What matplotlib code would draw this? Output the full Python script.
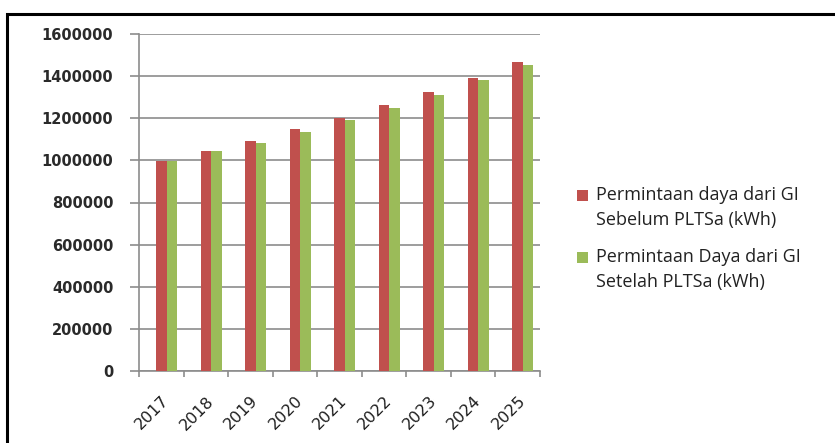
import numpy as np
import matplotlib.pyplot as plt
from matplotlib.patches import Rectangle
from matplotlib.container import BarContainer
from matplotlib.legend_handler import HandlerPatch

years = ["2017", "2018", "2019", "2020", "2021", "2022", "2023", "2024", "2025"]
sebelum = [997000, 1043000, 1093000, 1147000, 1200000, 1262000, 1326000, 1390000, 1466000]
setelah = [997000, 1043000, 1081000, 1133000, 1190000, 1247000, 1312000, 1382000, 1453000]
label_sebelum = "Permintaan daya dari GI\nSebelum PLTSa (kWh)"
label_setelah = "Permintaan Daya dari GI\nSetelah PLTSa (kWh)"

plt.rcParams["font.family"] = ["Open Sans", "DejaVu Sans"]

fig = plt.figure(figsize=(8.35, 4.43), dpi=100)
# outer chart frame
fig.patches.append(Rectangle((7 / 835, -0.2), 1.0, 1.2 - 14 / 443, transform=fig.transFigure,
                             fill=False, edgecolor="black", linewidth=2.2))

ax = fig.add_axes([139 / 835, 1 - 371 / 443, 401 / 835, 337 / 443])
x = np.arange(len(years))
w = 0.235
ax.bar(x, sebelum, w, color="#C0504D", label=label_sebelum, zorder=3)
ax.bar(x + w, setelah, w, color="#9BBB59", label=label_setelah, zorder=3)

ax.set_xlim(-0.5, len(years) - 0.5)
ax.set_ylim(0, 1600000)
ax.set_yticks(np.arange(0, 1600001, 200000))
ax.set_yticklabels([str(v) for v in range(0, 1600001, 200000)], fontsize=10.5,
                   fontweight="bold", color="#2a2a2a", family="DejaVu Sans")
ax.yaxis.grid(True, color="#8c8c8c", linewidth=1.2, zorder=0)
ax.tick_params(axis="y", length=6.5, color="#8c8c8c", width=1.2, pad=12)

ax.set_xticks(x)
ax.set_xticklabels(years, rotation=45, ha="right", rotation_mode="anchor",
                   fontsize=11.5, color="#1e1e1e", family="DejaVu Sans")
ax.tick_params(axis="x", which="major", length=0, pad=16)
ax.set_xticks(np.arange(-0.5, len(years), 1), minor=True)
ax.tick_params(axis="x", which="minor", length=4, color="#8c8c8c", width=1.2)

for s in ["top", "right"]:
    ax.spines[s].set_visible(False)
for s in ["left", "bottom"]:
    ax.spines[s].set_color("#8c8c8c")
    ax.spines[s].set_linewidth(1.2)


# legend marker sits next to the first line of each label, as in Excel
def top_square(legend, orig_handle, xdescent, ydescent, width, height, fontsize):
    return Rectangle((-xdescent, -ydescent + 9), width, height)


def from_bars(handle, orig):
    handle.update_from(orig.patches[0])


leg = fig.legend(loc="upper left", bbox_to_anchor=(561 / 835, 1 - 170 / 443), frameon=False,
                 fontsize=13, handlelength=0.6, handleheight=0.6, handletextpad=0.45,
                 labelspacing=1.1, labelcolor="#222222",
                 handler_map={BarContainer: HandlerPatch(patch_func=top_square,
                                                         update_func=from_bars)})
for t in leg.get_texts():
    t.set_linespacing(1.45)

fig.savefig("out.png", dpi=100)
